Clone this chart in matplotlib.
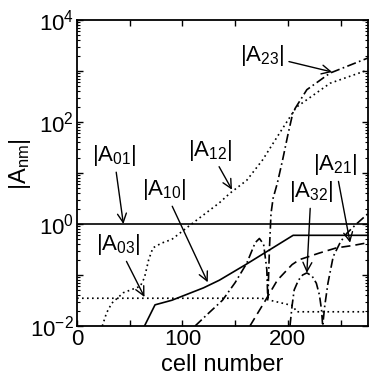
import numpy as np
import matplotlib
matplotlib.use('Agg')
import matplotlib.pyplot as plt
from matplotlib.ticker import LogLocator, FixedLocator, FuncFormatter, NullFormatter

plt.rcParams['font.family'] = ['Liberation Sans', 'DejaVu Sans']
plt.rcParams['mathtext.default'] = 'regular'

# values (cell number, |A_nm|)
a01_x = [0, 276]
a01_y = [1.0, 1.0]

a10_x = [64, 74, 90, 120, 135, 160, 205, 276]
a10_y = [0.01, 0.026, 0.032, 0.056, 0.079, 0.16, 0.6, 0.6]

a03_x = [0, 175, 205, 208, 276]
a03_y = [0.035, 0.035, 0.025, 0.019, 0.019]

a12_x = [24, 28, 33, 44, 60, 64, 68, 72, 80, 90, 110, 135, 145, 161, 176, 192, 208, 240, 276]
a12_y = [0.01, 0.018, 0.028, 0.045, 0.06, 0.089, 0.2, 0.34, 0.42, 0.5, 1.05, 2.6, 4.0, 7.2,
         18, 60, 195, 575, 1050]

a23_x = [112, 125, 138, 150, 161, 169, 173, 177, 180, 181, 182.5, 184, 186, 190, 195, 200,
         205, 218, 240, 276]
a23_y = [0.01, 0.018, 0.032, 0.071, 0.17, 0.43, 0.52, 0.4, 0.13, 0.032, 0.32, 1.6, 3.2, 6.3,
         18, 56, 160, 430, 910, 1800]

a32_x = [202, 204, 206, 210, 214, 218, 223, 227, 230, 232, 233, 235, 238, 243, 250, 256, 265, 276]
a32_y = [0.01, 0.025, 0.051, 0.079, 0.1, 0.11, 0.095, 0.069, 0.04, 0.02, 0.01, 0.025, 0.069,
         0.23, 0.45, 0.66, 1.0, 1.6]

a21_x = [164, 178, 190, 204, 211, 230, 246, 262, 276]
a21_y = [0.01, 0.03, 0.079, 0.16, 0.2, 0.27, 0.34, 0.38, 0.43]

# label text, text position, arrow tip
labels = [r'|A$_{23}$|', r'|A$_{12}$|', r'|A$_{21}$|', r'|A$_{32}$|',
          r'|A$_{01}$|', r'|A$_{10}$|', r'|A$_{03}$|']
label_pos = [(176, 2040), (126, 28), (245, 14.5), (222, 4.3), (35, 22), (83, 4.7), (39, 0.39)]
arrow_tip = [(242, 955), (147, 4.7), (259, 0.43), (218, 0.11), (44, 1.0), (124, 0.072), (64, 0.037)]

fig = plt.figure(figsize=(3.69, 3.80), dpi=100)
ax = fig.add_axes([77 / 369, 54 / 380, 291 / 369, 306 / 380])

lw = 1.2
ax.plot(a01_x, a01_y, color='black', lw=lw)
ax.plot(a10_x, a10_y, color='black', lw=lw)
ax.plot(a03_x, a03_y, color='black', lw=lw, dashes=(1, 2))
ax.plot(a12_x, a12_y, color='black', lw=lw, dashes=(1, 2))
ax.plot(a23_x, a23_y, color='black', lw=lw, dashes=(5.5, 2, 1, 2))
ax.plot(a32_x, a32_y, color='black', lw=lw, dashes=(5.5, 2, 1, 2))
ax.plot(a21_x, a21_y, color='black', lw=lw, dashes=(5.5, 3))

for txt, pos, tip in zip(labels, label_pos, arrow_tip):
    ax.annotate(txt, xy=tip, xytext=pos, ha='center', va='center', fontsize=16,
                arrowprops=dict(arrowstyle='->', lw=1.0, color='black',
                                shrinkA=1, shrinkB=0))

ax.set_yscale('log')
ax.set_xlim(0, 276)
ax.set_ylim(0.01, 1e4)

ax.xaxis.set_major_locator(FixedLocator([0, 100, 200]))
ax.xaxis.set_minor_locator(FixedLocator([50, 150, 250]))
ax.yaxis.set_major_locator(LogLocator(base=10, numticks=20))
ax.yaxis.set_minor_locator(LogLocator(base=10, subs=np.arange(2, 10), numticks=20))
ax.yaxis.set_major_formatter(FuncFormatter(
    lambda v, p: r'$10^{%d}$' % round(np.log10(v)) if round(np.log10(v)) % 2 == 0 else ''))
ax.yaxis.set_minor_formatter(NullFormatter())

ax.tick_params(which='both', direction='in', top=True, right=True, labelsize=16, pad=2)
ax.tick_params(which='major', length=4, width=1)
ax.tick_params(which='minor', length=2.5, width=0.8)
ax.tick_params(axis='x', which='minor', length=4, width=1)
for s in ax.spines.values():
    s.set_linewidth(1.3)

ax.set_xlabel('cell number', fontsize=17, labelpad=3)
ax.set_ylabel(r'|A$_{nm}$|', fontsize=17)
ax.yaxis.set_label_coords(-0.15, 0.53)

fig.savefig('out.png', dpi=100)
